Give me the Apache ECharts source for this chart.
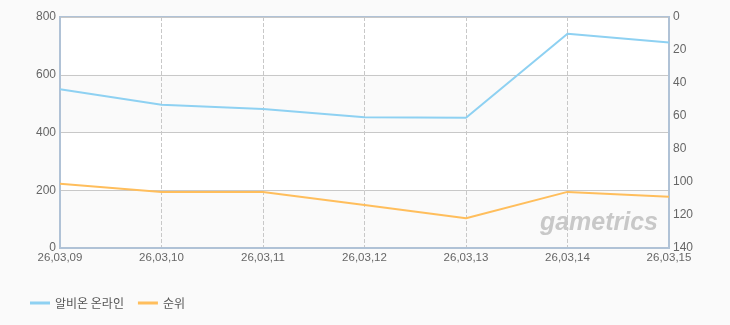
<!DOCTYPE html>
<html><head><meta charset="utf-8">
<script src="https://cdn.jsdelivr.net/npm/echarts@6/dist/echarts.min.js"></script>
<style>html,body{margin:0;padding:0;background:#fafafa;}#c{width:730px;height:325px;}</style>
</head><body><div id="c"></div>
<script>
var categories = ['26,03,09','26,03,10','26,03,11','26,03,12','26,03,13','26,03,14','26,03,15'];
var usersSeries = [550, 496, 481, 453, 451, 742, 712];
var rankSeries = [101, 106, 106, 114, 122, 106, 109];
var leftTicks = [0, 200, 400, 600, 800];
var rightTicks = [0, 20, 40, 60, 80, 100, 120, 140];

var chart = echarts.init(document.getElementById('c'));
var labelStyle = {color:'#666', fontSize:12, fontFamily:'Liberation Sans, Arial, sans-serif'};
chart.setOption({
  backgroundColor:'#fafafa',
  animation:false,
  grid:{left:60, right:61, top:17, bottom:77, show:true, borderColor:'#b0c2d6', borderWidth:2, backgroundColor:'transparent'},
  legend:{
    left:25, top:292, itemWidth:20, itemHeight:3, itemGap:14,
    icon:'rect',
    textStyle:{color:'#555', fontSize:12, fontFamily:'Noto Sans CJK KR, sans-serif'},
    data:['알비온 온라인','순위']
  },
  xAxis:{
    type:'category', data:categories, boundaryGap:false,
    axisLine:{show:true, lineStyle:{color:'#b0c2d6', width:2}},
    axisTick:{show:false},
    axisLabel:Object.assign({margin:4, interval:0}, labelStyle, {fontSize:11.5}),
    splitLine:{show:true, lineStyle:{color:'#c8c8c8', type:'dashed', width:1}}
  },
  yAxis:[{
    type:'value', min:leftTicks[0], max:leftTicks[leftTicks.length-1], interval:200,
    axisLine:{show:true, lineStyle:{color:'#b0c2d6', width:2}},
    axisTick:{show:false},
    axisLabel:Object.assign({margin:4}, labelStyle),
    splitLine:{show:true, lineStyle:{color:'#c8c8c8', width:1}},
    splitArea:{show:true, areaStyle:{color:['#fafafa','#ffffff']}}
  },{
    type:'value', min:rightTicks[0], max:rightTicks[rightTicks.length-1], interval:20, inverse:true,
    position:'right',
    axisLine:{show:true, lineStyle:{color:'#b0c2d6', width:2}},
    axisTick:{show:false},
    axisLabel:Object.assign({margin:4}, labelStyle),
    splitLine:{show:false}
  }],
  graphic:[{
    type:'text', right:72, top:211, z:1,
    style:{text:'gametrics', fill:'#c8c8c8', font:'italic bold 25px Liberation Sans, Arial, sans-serif'}
  }],
  series:[{
    name:'알비온 온라인', type:'line', data:usersSeries, yAxisIndex:0,
    showSymbol:false, symbol:'none', z:3,
    lineStyle:{color:'#8ed1f2', width:2}, itemStyle:{color:'#8ed1f2'}
  },{
    name:'순위', type:'line', data:rankSeries, yAxisIndex:1,
    showSymbol:false, symbol:'none', z:3,
    lineStyle:{color:'#ffbe5c', width:2}, itemStyle:{color:'#ffbe5c'}
  }]
});
</script></body></html>
